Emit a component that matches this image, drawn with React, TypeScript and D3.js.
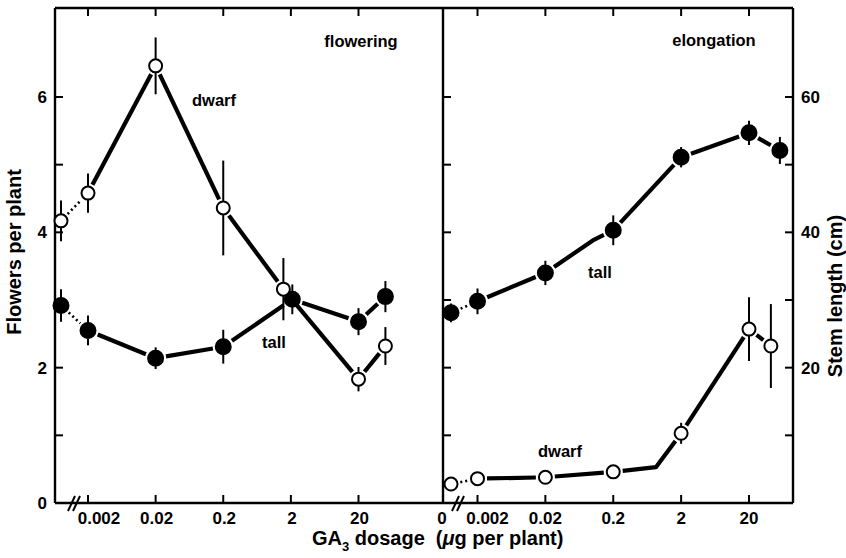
import React from 'react';
import * as d3 from 'd3';

// ---------- data ----------
const doseTicks = [0.002, 0.02, 0.2, 2, 20];
const doseTickLabels = ['0.002', '0.02', '0.2', '2', '20'];
const flowerTicks = [0, 1, 2, 3, 4, 5, 6];
const flowerTickLabels = ['0', '', '2', '', '4', '', '6'];
const stemTicks = [0, 10, 20, 30, 40, 50, 60];
const stemTickLabels = ['', '', '20', '', '40', '', '60'];

// flowering panel (flowers per plant); dose 0 = untreated control
const flowerDwarfDose = [0, 0.002, 0.02, 0.2, 1.55, 20, 50];
const flowerDwarfMean = [4.17, 4.58, 6.46, 4.36, 3.16, 1.83, 2.32];
const flowerDwarfErr = [0.3, 0.29, 0.42, 0.7, 0.46, 0.18, 0.28];
const flowerTallDose = [0, 0.002, 0.02, 0.2, 2.1, 20, 50];
const flowerTallMean = [2.92, 2.55, 2.14, 2.31, 3.01, 2.68, 3.05];
const flowerTallErr = [0.24, 0.22, 0.16, 0.25, 0.22, 0.2, 0.23];

// elongation panel (stem length, cm); marked=false -> line vertex without symbol
const stemTallDose = [0, 0.002, 0.02, 0.1, 0.2, 2, 20, 57];
const stemTallMean = [28.1, 29.8, 34.0, 38.8, 40.3, 51.1, 54.7, 52.1];
const stemTallErr = [1.4, 1.9, 1.8, 0, 2.2, 1.5, 1.8, 2.0];
const stemTallMarked = [true, true, true, false, true, true, true, true];
const stemDwarfDose = [0, 0.002, 0.02, 0.2, 0.85, 2, 20, 42];
const stemDwarfMean = [2.8, 3.6, 3.8, 4.6, 5.3, 10.3, 25.7, 23.2];
const stemDwarfErr = [0, 0, 0, 0, 0, 1.55, 4.7, 6.2];
const stemDwarfMarked = [true, true, true, true, false, true, true, true];

// ---------- layout ----------
const W = 846, H = 558;
const TOP = 8, BOTTOM = 503;
const X0 = 55, XDIV = 443, X1 = 793;
const FONT = "'Liberation Sans', Arial, Helvetica, sans-serif";

const xLeft = d3.scaleLog().domain([0.002, 20]).range([88, 358.5]);
const xRight = d3.scaleLog().domain([0.002, 20]).range([477.5, 749]);
const yFlower = d3.scaleLinear().domain([0, 6]).range([BOTTOM, 97]);
const yStem = d3.scaleLinear().domain([0, 60]).range([BOTTOM, 97]);

type Pt = { x: number; y: number; lo: number; hi: number; marked: boolean };

function makePts(dose: number[], mean: number[], err: number[], marked: boolean[] | null,
  xs: d3.ScaleLogarithmic<number, number>, ys: d3.ScaleLinear<number, number>, ctrlX: number): Pt[] {
  return dose.map((d, i) => ({
    x: d === 0 ? ctrlX : xs(d),
    y: ys(mean[i]),
    lo: ys(mean[i] - err[i]),
    hi: ys(mean[i] + err[i]),
    marked: marked ? marked[i] : true,
  }));
}

function shorten(a: [number, number], b: [number, number], g: number): [number, number] {
  const dx = b[0] - a[0], dy = b[1] - a[1];
  const L = Math.hypot(dx, dy);
  return [a[0] + (dx / L) * g, a[1] + (dy / L) * g];
}

const lineGen = d3.line<[number, number]>();

function Series({ pts, filled, r }: { pts: Pt[]; filled: boolean; r: number }) {
  const gap = r + 3;
  const marks = pts.map((p, i) => (p.marked ? i : -1)).filter((i) => i >= 0);
  const paths: { d: string; dotted: boolean }[] = [];
  for (let k = 0; k < marks.length - 1; k++) {
    const a = marks[k], b = marks[k + 1];
    const run: [number, number][] = pts.slice(a, b + 1).map((p) => [p.x, p.y]);
    run[0] = shorten(run[0], run[1], gap);
    const n = run.length;
    run[n - 1] = shorten(run[n - 1], run[n - 2], gap);
    paths.push({ d: lineGen(run) || '', dotted: a === 0 });
  }
  return (
    <g>
      {paths.map((p, i) => (
        <path key={'l' + i} d={p.d} fill="none" stroke="#000"
          strokeWidth={p.dotted ? 2.6 : 4.2}
          strokeDasharray={p.dotted ? '2 3' : undefined} strokeLinejoin="round" />
      ))}
      {pts.filter((p) => p.marked && p.hi !== p.lo).map((p, i) => (
        <line key={'e' + i} x1={p.x} x2={p.x} y1={p.hi} y2={p.lo} stroke="#000" strokeWidth={2} />
      ))}
      {pts.filter((p) => p.marked).map((p, i) => (
        <circle key={'c' + i} cx={p.x} cy={p.y} r={r} fill={filled ? '#000' : '#fff'} stroke="#000" strokeWidth={2} />
      ))}
    </g>
  );
}

export default function App() {
  const fd = makePts(flowerDwarfDose, flowerDwarfMean, flowerDwarfErr, null, xLeft, yFlower, X0 + 6);
  const ft = makePts(flowerTallDose, flowerTallMean, flowerTallErr, null, xLeft, yFlower, X0 + 6);
  const st = makePts(stemTallDose, stemTallMean, stemTallErr, stemTallMarked, xRight, yStem, XDIV + 8);
  const sd = makePts(stemDwarfDose, stemDwarfMean, stemDwarfErr, stemDwarfMarked, xRight, yStem, XDIV + 8);

  const tickLen = 8;
  const axisW = 2.4;

  return (
    <svg width={W} height={H} style={{ position: 'absolute', left: 0, top: 0, background: '#fff' }}
      fontFamily={FONT} fontWeight="bold">
      <rect width={W} height={H} fill="#fff" />
      {/* frame */}
      <g stroke="#000" strokeWidth={axisW} fill="none">
        <line x1={X0} x2={X1} y1={TOP} y2={TOP} />
        <line x1={X0} x2={X1} y1={BOTTOM} y2={BOTTOM} />
        <line x1={X0} x2={X0} y1={TOP} y2={BOTTOM} />
        <line x1={XDIV} x2={XDIV} y1={TOP} y2={BOTTOM} />
        <line x1={X1} x2={X1} y1={TOP} y2={BOTTOM} />
      </g>
      {/* ticks */}
      <g stroke="#000" strokeWidth={2}>
        {doseTicks.map((d, i) => (
          <g key={'xt' + i}>
            <line x1={xLeft(d)} x2={xLeft(d)} y1={TOP} y2={TOP + tickLen} />
            <line x1={xLeft(d)} x2={xLeft(d)} y1={BOTTOM} y2={BOTTOM - tickLen} />
            <line x1={xRight(d)} x2={xRight(d)} y1={TOP} y2={TOP + tickLen} />
            <line x1={xRight(d)} x2={xRight(d)} y1={BOTTOM} y2={BOTTOM - tickLen} />
          </g>
        ))}
        {flowerTicks.slice(1).map((v, i) => (
          <line key={'yl' + i} x1={X0} x2={X0 + tickLen} y1={yFlower(v)} y2={yFlower(v)} />
        ))}
        {stemTicks.slice(1).map((v, i) => (
          <g key={'yr' + i}>
            <line x1={XDIV} x2={XDIV + tickLen} y1={yStem(v)} y2={yStem(v)} />
            <line x1={X1} x2={X1 - tickLen} y1={yStem(v)} y2={yStem(v)} />
          </g>
        ))}
      </g>
      {/* axis breaks */}
      <g stroke="#000" strokeWidth={2}>
        {[68, 73, 452, 457].map((x, i) => (
          <line key={'br' + i} x1={x} y1={511} x2={x + 7} y2={496} />
        ))}
      </g>
      {/* tick labels */}
      <g fontSize={17} fill="#000">
        {doseTicks.map((d, i) => (
          <g key={'xl' + i}>
            <text x={xLeft(d) + (i === 0 ? 11 : 1)} y={524} textAnchor="middle">{doseTickLabels[i]}</text>
            <text x={xRight(d) + (i === 0 ? 10 : 0)} y={524} textAnchor="middle">{doseTickLabels[i]}</text>
          </g>
        ))}
        <text x={XDIV - 1} y={524} textAnchor="middle">0</text>
        {flowerTicks.map((v, i) => flowerTickLabels[i] ? (
          <text key={'fl' + i} x={47} y={yFlower(v) + 6} textAnchor="end">{flowerTickLabels[i]}</text>
        ) : null)}
        {stemTicks.map((v, i) => stemTickLabels[i] ? (
          <text key={'sl' + i} x={801} y={yStem(v) + 6} textAnchor="start">{stemTickLabels[i]}</text>
        ) : null)}
      </g>
      {/* axis titles */}
      <g fontSize={20} fill="#000">
        <text transform="translate(21,252) rotate(-90)" textAnchor="middle">Flowers per plant</text>
        <text transform="translate(842,296) rotate(-90)" textAnchor="middle">Stem length (cm)</text>
        <text x={312} y={545}>
          GA<tspan fontSize={13} dy={6}>3</tspan><tspan dy={-6}>{' dosage'}</tspan><tspan dx={11}>(</tspan><tspan fontStyle="italic">μ</tspan>g per plant)
        </text>
      </g>
      {/* panel labels */}
      <g fontSize={16.5} fill="#000" textAnchor="middle">
        <text x={361} y={47}>flowering</text>
        <text x={714} y={46}>elongation</text>
        <text x={214} y={106}>dwarf</text>
        <text x={274} y={348}>tall</text>
        <text x={600} y={278}>tall</text>
        <text x={560} y={457}>dwarf</text>
      </g>
      {/* data */}
      <Series pts={ft} filled={true} r={7.5} />
      <Series pts={fd} filled={false} r={6.5} />
      <Series pts={st} filled={true} r={7.5} />
      <Series pts={sd} filled={false} r={6.5} />
    </svg>
  );
}
